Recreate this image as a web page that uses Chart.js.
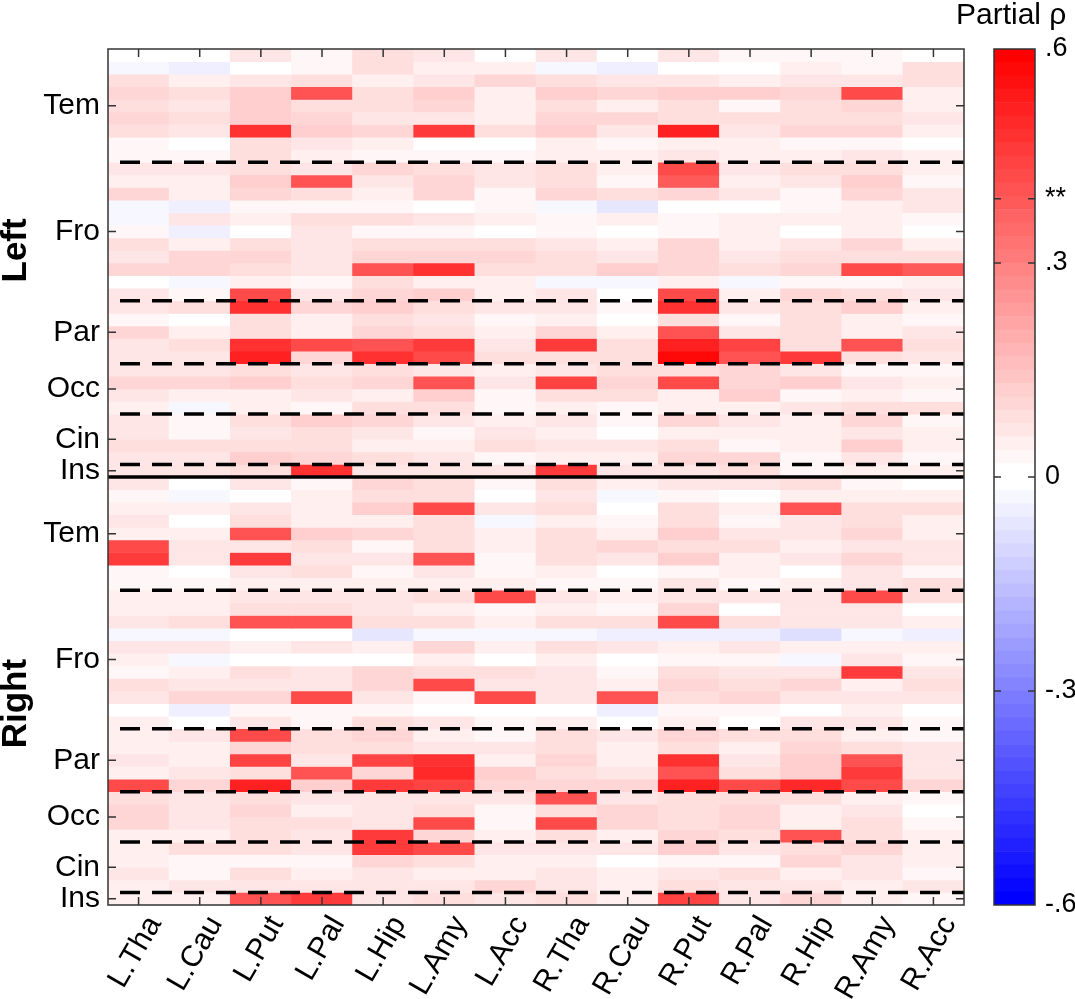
<!DOCTYPE html>
<html lang="en">
<head>
<meta charset="UTF-8">
<title>Partial rho heatmap</title>
<script src="https://cdn.jsdelivr.net/npm/chart.js"></script>
<style>
  html, body { margin: 0; padding: 0; background: #fff; overflow: hidden; }
  #wrap { position: relative; width: 1075px; height: 999px; }
  canvas { position: absolute; top: 0; }
</style>
</head>
<body>
<div id="wrap">
  <canvas id="heat" width="1075" height="999" style="left:0"></canvas>
  <canvas id="cbar" width="125" height="999" style="left:950px"></canvas>
</div>

<script>
  const subcortical = ['L.Tha', 'L.Cau', 'L.Put', 'L.Pal', 'L.Hip', 'L.Amy', 'L.Acc',
                       'R.Tha', 'R.Cau', 'R.Put', 'R.Pal', 'R.Hip', 'R.Amy', 'R.Acc'];
  const regionNames = ['Tem', 'Fro', 'Par', 'Occ', 'Cin', 'Ins'];
  const regionSizes = [9, 11, 5, 4, 4, 1];
  const hemispheres = ['Left', 'Right'];
  const hemiLabelRows = [16, 52];

  // partial rho, one row per cortical region, columns follow subcortical
  const leftRho = [
    [0.01, 0.01, 0.07, 0.02, 0.08, 0.06, 0.01, 0.06, 0.00, 0.06, 0.02, 0.02, 0.02, 0.00],
    [-0.03, -0.04, 0.01, 0.02, 0.08, 0.05, 0.05, -0.02, -0.04, 0.00, 0.00, 0.04, 0.02, 0.09],
    [0.08, 0.04, 0.06, 0.09, 0.05, 0.06, 0.10, 0.09, 0.06, 0.06, 0.05, 0.07, 0.06, 0.09],
    [0.11, 0.08, 0.12, 0.40, 0.09, 0.12, 0.04, 0.12, 0.10, 0.12, 0.12, 0.10, 0.42, 0.05],
    [0.08, 0.06, 0.12, 0.09, 0.09, 0.10, 0.04, 0.08, 0.05, 0.09, 0.03, 0.08, 0.10, 0.05],
    [0.10, 0.08, 0.12, 0.10, 0.07, 0.07, 0.04, 0.11, 0.11, 0.09, 0.08, 0.08, 0.08, 0.07],
    [0.08, 0.06, 0.48, 0.12, 0.11, 0.45, 0.08, 0.12, 0.07, 0.52, 0.07, 0.10, 0.10, 0.05],
    [0.02, 0.00, 0.09, 0.07, 0.05, -0.01, 0.00, 0.04, 0.02, 0.05, 0.04, 0.03, 0.03, 0.01],
    [0.02, 0.02, 0.08, 0.04, 0.03, 0.03, 0.03, 0.05, 0.05, 0.06, 0.05, 0.05, 0.06, 0.05],
    [0.07, 0.06, 0.08, 0.07, 0.10, 0.08, 0.06, 0.08, 0.05, 0.43, 0.07, 0.08, 0.08, 0.05],
    [0.05, 0.04, 0.12, 0.40, 0.07, 0.10, 0.06, 0.09, 0.02, 0.39, 0.05, 0.07, 0.12, 0.02],
    [0.10, 0.04, 0.10, 0.08, 0.05, 0.11, 0.02, 0.11, 0.08, 0.11, 0.07, 0.03, 0.11, 0.06],
    [-0.03, -0.05, 0.03, 0.03, 0.03, 0.01, 0.02, -0.02, -0.06, 0.01, 0.00, 0.02, 0.05, 0.07],
    [-0.02, 0.07, 0.05, 0.09, 0.08, 0.07, 0.04, 0.02, 0.04, 0.02, 0.05, 0.05, 0.04, 0.02],
    [0.02, -0.04, 0.01, 0.06, 0.02, 0.03, -0.01, 0.02, -0.01, 0.02, 0.04, 0.00, 0.05, -0.01],
    [0.09, 0.05, 0.09, 0.06, 0.08, 0.08, 0.08, 0.06, 0.05, 0.10, 0.05, 0.07, 0.11, 0.05],
    [0.06, 0.10, 0.10, 0.07, 0.10, 0.11, 0.10, 0.08, 0.07, 0.11, 0.07, 0.08, 0.08, 0.09],
    [0.10, 0.11, 0.09, 0.06, 0.40, 0.47, 0.09, 0.09, 0.12, 0.11, 0.08, 0.11, 0.42, 0.39],
    [-0.01, -0.03, 0.05, 0.02, 0.08, 0.05, 0.04, -0.03, -0.02, 0.04, -0.02, 0.03, 0.03, 0.05],
    [0.07, 0.02, 0.42, 0.07, 0.11, 0.12, 0.05, 0.07, 0.00, 0.42, 0.05, 0.10, 0.08, 0.06],
    [0.07, 0.08, 0.48, 0.10, 0.12, 0.08, 0.06, 0.07, 0.03, 0.48, 0.06, 0.09, 0.12, 0.04],
    [0.03, 0.00, 0.09, 0.05, 0.08, 0.07, 0.03, 0.05, -0.01, 0.08, 0.03, 0.09, 0.04, 0.02],
    [0.10, 0.04, 0.09, 0.05, 0.10, 0.08, 0.05, 0.11, 0.04, 0.40, 0.07, 0.09, 0.05, 0.06],
    [0.07, 0.08, 0.47, 0.43, 0.41, 0.46, 0.07, 0.45, 0.08, 0.52, 0.44, 0.09, 0.40, 0.08],
    [0.06, 0.07, 0.52, 0.10, 0.47, 0.42, 0.09, 0.08, 0.08, 0.58, 0.40, 0.45, 0.09, 0.07],
    [0.07, 0.07, 0.09, 0.06, 0.09, 0.06, 0.05, 0.06, 0.09, 0.09, 0.10, 0.07, 0.02, 0.02],
    [0.10, 0.11, 0.12, 0.09, 0.11, 0.40, 0.07, 0.44, 0.10, 0.42, 0.11, 0.12, 0.07, 0.04],
    [0.06, 0.05, 0.04, 0.07, 0.04, 0.12, 0.03, 0.09, 0.09, 0.04, 0.12, 0.03, 0.05, 0.02],
    [0.05, -0.02, 0.05, 0.03, 0.09, 0.08, 0.02, 0.05, 0.02, 0.04, 0.05, 0.06, 0.08, 0.09],
    [0.07, 0.03, 0.09, 0.12, 0.10, 0.06, 0.04, 0.07, 0.03, 0.10, 0.06, 0.05, 0.10, 0.02],
    [0.07, 0.02, 0.07, 0.08, 0.06, 0.02, 0.07, 0.05, 0.00, 0.05, 0.05, 0.04, 0.06, 0.04],
    [0.09, 0.08, 0.08, 0.08, 0.04, 0.05, 0.09, 0.07, 0.06, 0.08, 0.02, 0.04, 0.12, 0.05],
    [0.06, 0.06, 0.12, 0.11, 0.09, 0.07, 0.02, 0.04, 0.04, 0.11, 0.10, 0.03, 0.06, 0.02],
    [0.07, 0.06, 0.09, 0.47, 0.06, 0.06, 0.06, 0.45, 0.06, 0.06, 0.09, 0.03, 0.05, 0.05]
  ];

  const rightRho = [
    [0.07, 0.00, 0.07, 0.03, 0.10, 0.09, 0.03, 0.09, 0.04, 0.07, 0.07, 0.08, 0.03, 0.01],
    [0.02, -0.03, 0.01, 0.05, 0.09, 0.09, 0.01, 0.07, -0.02, 0.03, 0.00, 0.04, 0.04, 0.04],
    [0.04, 0.04, 0.06, 0.05, 0.13, 0.42, 0.07, 0.08, 0.01, 0.09, 0.05, 0.41, 0.08, 0.08],
    [0.07, 0.00, 0.09, 0.05, 0.05, 0.08, -0.02, 0.05, 0.03, 0.09, 0.02, 0.06, 0.08, 0.04],
    [0.04, 0.05, 0.41, 0.12, 0.11, 0.09, 0.04, 0.08, 0.05, 0.12, 0.07, 0.07, 0.10, 0.05],
    [0.43, 0.07, 0.07, 0.09, 0.03, 0.09, 0.05, 0.09, 0.10, 0.08, 0.09, 0.05, 0.07, 0.07],
    [0.45, 0.07, 0.45, 0.06, 0.07, 0.41, 0.02, 0.09, 0.07, 0.12, 0.05, 0.07, 0.11, 0.07],
    [0.02, 0.00, 0.06, 0.08, 0.03, 0.06, 0.03, 0.05, 0.01, 0.03, 0.05, 0.00, 0.07, 0.03],
    [0.03, 0.02, 0.05, 0.05, 0.04, 0.05, 0.05, 0.03, 0.02, 0.06, 0.02, 0.05, 0.06, 0.09],
    [0.05, 0.05, 0.07, 0.07, 0.07, 0.08, 0.42, 0.07, 0.04, 0.07, 0.06, 0.07, 0.42, 0.08],
    [0.05, 0.05, 0.09, 0.09, 0.07, 0.05, 0.02, 0.05, 0.03, 0.10, 0.01, 0.06, 0.06, 0.00],
    [0.07, 0.09, 0.41, 0.41, 0.09, 0.09, 0.05, 0.09, 0.09, 0.43, 0.09, 0.07, 0.07, 0.05],
    [-0.02, -0.03, 0.01, 0.01, -0.06, -0.02, -0.02, -0.03, -0.04, -0.04, -0.04, -0.08, -0.03, -0.04],
    [0.06, 0.06, 0.04, 0.07, 0.04, 0.11, 0.05, 0.08, 0.07, 0.04, 0.07, 0.04, 0.04, 0.05],
    [0.04, -0.02, 0.00, -0.01, -0.01, 0.04, 0.00, 0.04, -0.01, 0.03, 0.02, -0.02, 0.07, 0.03],
    [0.02, 0.04, 0.08, 0.07, 0.10, 0.08, 0.08, 0.06, 0.02, 0.08, 0.06, 0.07, 0.45, 0.07],
    [0.08, 0.07, 0.07, 0.07, 0.10, 0.42, 0.07, 0.07, 0.05, 0.10, 0.08, 0.11, 0.05, 0.08],
    [0.07, 0.10, 0.10, 0.42, 0.07, 0.02, 0.42, 0.07, 0.40, 0.08, 0.10, 0.06, 0.07, 0.07],
    [0.00, -0.04, 0.03, 0.02, 0.02, 0.01, 0.01, 0.00, -0.05, 0.03, 0.02, 0.00, 0.04, -0.01],
    [0.04, 0.00, 0.06, 0.03, 0.08, 0.07, 0.02, 0.05, 0.00, 0.05, 0.00, 0.07, 0.07, 0.03],
    [0.05, 0.06, 0.42, 0.08, 0.10, 0.05, 0.02, 0.09, 0.07, 0.10, 0.08, 0.08, 0.05, 0.02],
    [0.05, 0.04, 0.10, 0.08, 0.09, 0.07, 0.07, 0.09, 0.04, 0.09, 0.05, 0.10, 0.09, 0.06],
    [0.07, 0.04, 0.44, 0.07, 0.44, 0.48, 0.04, 0.10, 0.04, 0.48, 0.07, 0.12, 0.40, 0.06],
    [0.05, 0.07, 0.09, 0.40, 0.11, 0.49, 0.12, 0.09, 0.06, 0.40, 0.08, 0.12, 0.45, 0.07],
    [0.43, 0.10, 0.52, 0.12, 0.46, 0.44, 0.10, 0.10, 0.11, 0.52, 0.42, 0.50, 0.42, 0.10],
    [0.08, 0.07, 0.09, 0.07, 0.07, 0.07, 0.07, 0.40, 0.07, 0.08, 0.08, 0.08, 0.05, 0.03],
    [0.10, 0.07, 0.10, 0.05, 0.07, 0.09, 0.03, 0.09, 0.10, 0.09, 0.10, 0.04, 0.07, 0.00],
    [0.10, 0.06, 0.08, 0.08, 0.07, 0.42, 0.03, 0.42, 0.10, 0.08, 0.11, 0.05, 0.08, 0.02],
    [0.05, 0.05, 0.08, 0.06, 0.45, 0.10, 0.04, 0.08, 0.05, 0.11, 0.08, 0.41, 0.09, 0.04],
    [0.05, 0.09, 0.09, 0.07, 0.46, 0.43, 0.07, 0.07, 0.07, 0.12, 0.07, 0.08, 0.11, 0.04],
    [0.05, 0.03, 0.02, 0.03, 0.10, 0.09, 0.04, 0.04, 0.00, 0.03, 0.02, 0.10, 0.06, 0.04],
    [0.06, 0.02, 0.08, 0.05, 0.07, 0.04, 0.05, 0.06, 0.04, 0.06, 0.08, 0.05, 0.07, 0.02],
    [0.04, 0.06, 0.07, 0.06, 0.06, 0.07, 0.10, 0.06, 0.05, 0.08, 0.07, 0.07, 0.04, 0.06],
    [0.04, 0.05, 0.41, 0.46, 0.06, 0.08, 0.06, 0.08, 0.05, 0.44, 0.07, 0.10, 0.04, 0.03]
  ];

  const cbTickValues = [-0.6, -0.3, 0, 0.3, 0.39, 0.6];
  const cbTickLabels = ['-.6', '-.3', '0', '.3', '**', '.6'];
  const cbInnerTicks = [-0.3, 0, 0.3, 0.39];
  const rhoMax = 0.6;
  const nColors = 64;

  const FONT = '"Liberation Sans", Arial, Helvetica, sans-serif';
  Chart.defaults.font.family = FONT;
  Chart.defaults.color = '#000';

  // blue-white-red colormap with 64 steps, like the colour bar
  function rhoColor(v) {
    let i = Math.floor((v + rhoMax) / (2 * rhoMax) * nColors);
    i = Math.max(0, Math.min(nColors - 1, i));
    const half = nColors / 2;
    if (i < half) {
      const c = Math.round(255 * i / (half - 1));
      return 'rgb(' + c + ',' + c + ',255)';
    }
    const c = Math.round(255 * (1 - (i - half) / (half - 1)));
    return 'rgb(255,' + c + ',' + c + ')';
  }

  const allRows = leftRho.concat(rightRho);
  const nRows = allRows.length;
  const hemiRows = leftRho.length;

  // region boundaries and centres inside one hemisphere
  const groupEdges = [];
  const groupCentres = [];
  let acc = 0;
  regionSizes.forEach(n => {
    groupCentres.push(acc + n / 2);
    acc += n;
    groupEdges.push(acc);
  });
  const dashRows = [];
  const yTickValues = [];
  const yTickLabels = [];
  [0, hemiRows].forEach(off => {
    groupEdges.slice(0, -1).forEach(e => dashRows.push(off + e));
    groupCentres.forEach((c, k) => { yTickValues.push(off + c); yTickLabels.push(regionNames[k]); });
  });

  const heatSets = allRows.map((row, r) => ({
    data: row.map(() => [r, r + 1]),
    backgroundColor: row.map(rhoColor),
    borderWidth: 0,
    barPercentage: 1,
    categoryPercentage: 1,
    grouped: false
  }));

  const heatDecor = {
    id: 'heatDecor',
    afterDatasetsDraw(chart) {
      const { ctx, chartArea: a, scales: { x, y } } = chart;
      ctx.save();
      // dashed region lines
      ctx.strokeStyle = '#000';
      ctx.lineWidth = 3.5;
      ctx.setLineDash([20, 12]);
      dashRows.forEach(r => {
        const py = y.getPixelForValue(r);
        ctx.beginPath();
        ctx.moveTo(a.left + 12, py);
        ctx.lineTo(a.right, py);
        ctx.stroke();
      });
      ctx.setLineDash([]);
      // hemisphere divider
      const mid = y.getPixelForValue(hemiRows);
      ctx.beginPath();
      ctx.moveTo(a.left, mid);
      ctx.lineTo(a.right, mid);
      ctx.stroke();
      // inner tick marks
      ctx.strokeStyle = '#333';
      ctx.lineWidth = 1.5;
      const tl = 8;
      subcortical.forEach((_, i) => {
        const px = x.getPixelForValue(i);
        ctx.beginPath();
        ctx.moveTo(px, a.top); ctx.lineTo(px, a.top + tl);
        ctx.moveTo(px, a.bottom); ctx.lineTo(px, a.bottom - tl);
        ctx.stroke();
      });
      yTickValues.forEach(v => {
        const py = y.getPixelForValue(v);
        ctx.beginPath();
        ctx.moveTo(a.left, py); ctx.lineTo(a.left + tl, py);
        ctx.moveTo(a.right, py); ctx.lineTo(a.right - tl, py);
        ctx.stroke();
      });
      ctx.strokeRect(a.left, a.top, a.right - a.left, a.bottom - a.top);
      // hemisphere names
      ctx.fillStyle = '#000';
      ctx.font = 'bold 35px ' + FONT;
      ctx.textAlign = 'center';
      ctx.textBaseline = 'middle';
      hemispheres.forEach((h, k) => {
        ctx.save();
        ctx.translate(16, y.getPixelForValue(hemiLabelRows[k]));
        ctx.rotate(-Math.PI / 2);
        ctx.fillText(h, 0, 0);
        ctx.restore();
      });
      ctx.restore();
    }
  };

  new Chart(document.getElementById('heat'), {
    type: 'bar',
    data: { labels: subcortical, datasets: heatSets },
    options: {
      responsive: false,
      animation: false,
      devicePixelRatio: 1,
      layout: { padding: { top: 49, right: 111, left: 0, bottom: 0 } },
      plugins: { legend: { display: false }, tooltip: { enabled: false } },
      scales: {
        x: {
          offset: true,
          grid: { display: false, drawTicks: false },
          border: { display: false },
          afterFit: s => { s.height = 94; },
          ticks: {
            autoSkip: false, maxRotation: 60, minRotation: 60,
            padding: 5, labelOffset: 16,
            font: { size: 30 }
          }
        },
        y: {
          min: 0,
          max: nRows,
          reverse: true,
          grid: { display: false, drawTicks: false },
          border: { display: false },
          afterFit: s => { s.width = 108; },
          afterBuildTicks: s => { s.ticks = yTickValues.map(v => ({ value: v })); },
          ticks: {
            autoSkip: false, padding: 8,
            font: { size: 30 },
            callback: (v, i) => yTickLabels[i]
          }
        }
      }
    },
    plugins: [heatDecor]
  });

  // colour bar
  const cbSets = [];
  for (let i = 0; i < nColors; i++) {
    const lo = -rhoMax + i * 2 * rhoMax / nColors;
    const hi = lo + 2 * rhoMax / nColors;
    cbSets.push({
      data: [[lo, hi]],
      backgroundColor: rhoColor((lo + hi) / 2),
      borderWidth: 0,
      barPercentage: 1,
      categoryPercentage: 1,
      grouped: false
    });
  }

  const cbDecor = {
    id: 'cbDecor',
    afterDatasetsDraw(chart) {
      const { ctx, chartArea: a, scales: { y } } = chart;
      ctx.save();
      ctx.strokeStyle = '#333';
      ctx.lineWidth = 1.5;
      cbInnerTicks.forEach(v => {
        const py = y.getPixelForValue(v);
        ctx.beginPath();
        ctx.moveTo(a.left, py); ctx.lineTo(a.left + 7, py);
        ctx.moveTo(a.right, py); ctx.lineTo(a.right - 7, py);
        ctx.stroke();
      });
      ctx.strokeRect(a.left, a.top, a.right - a.left, a.bottom - a.top);
      ctx.fillStyle = '#000';
      ctx.font = '30px ' + FONT;
      ctx.textAlign = 'left';
      ctx.textBaseline = 'alphabetic';
      ctx.fillText('Partial ρ', 6, 24);
      ctx.restore();
    }
  };

  new Chart(document.getElementById('cbar'), {
    type: 'bar',
    data: { labels: ['ρ'], datasets: cbSets },
    options: {
      responsive: false,
      animation: false,
      devicePixelRatio: 1,
      layout: { padding: { top: 49, right: 0, left: 44, bottom: 94 } },
      plugins: { legend: { display: false }, tooltip: { enabled: false } },
      scales: {
        x: { display: false },
        y: {
          position: 'right',
          min: -rhoMax,
          max: rhoMax,
          grid: { display: false, drawTicks: false },
          border: { display: false },
          afterFit: s => { s.width = 40; },
          afterBuildTicks: s => { s.ticks = cbTickValues.map(v => ({ value: v })); },
          ticks: {
            autoSkip: false, padding: 10,
            font: { size: 27 },
            callback: (v, i) => cbTickLabels[i]
          }
        }
      }
    },
    plugins: [cbDecor]
  });
</script>
</body>
</html>
